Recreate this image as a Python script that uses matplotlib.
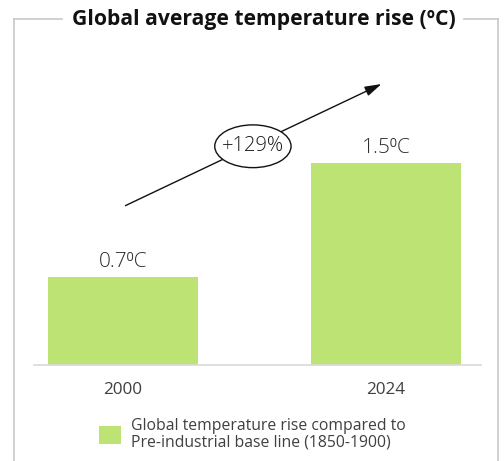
import matplotlib.pyplot as plt
from matplotlib.patches import Ellipse

plt.rcParams['font.family'] = ['Open Sans', 'DejaVu Sans']

years = ["2000", "2024"]
temp_rise = [0.7, 1.5]
value_labels = ["0.7\u2070C", "1.5\u2070C"]
growth_label = "+129%"
legend_label = "Global temperature rise compared to\nPre-industrial base line (1850-1900)"

W, H = 504, 461
fig = plt.figure(figsize=(W / 100, H / 100), dpi=100)

# outer frame with title sitting in the top line
frame_col = "#c8c8c8"
y_top = 1 - 19 / H
fig.add_artist(plt.Line2D([14 / W, 62 / W], [y_top, y_top], color=frame_col, lw=1.2))
fig.add_artist(plt.Line2D([464 / W, 498 / W], [y_top, y_top], color=frame_col, lw=1.2))
fig.add_artist(plt.Line2D([14 / W, 14 / W], [0, y_top], color=frame_col, lw=1.2))
fig.add_artist(plt.Line2D([498 / W, 498 / W], [0, y_top], color=frame_col, lw=1.2))
fig.text(264 / W, y_top, "Global average temperature rise (\u00baC)", ha="center", va="center",
         fontsize=15.2, fontweight="bold", color="#111111")

ax = fig.add_axes([34 / W, (H - 365) / H, (481 - 34) / W, (365 - 40) / H])
x = range(len(years))
bars = ax.bar(x, temp_rise, width=0.57, color="#bde374", bottom=0, label=legend_label)
ax.set_xlim(-0.338, 1.361)
ax.set_ylim(0.08, 0.08 + 325 / 142.5)

for xi, v, lab in zip(x, temp_rise, value_labels):
    ax.text(xi, v + 0.035, lab, ha="center", va="bottom", fontsize=15,
            fontweight="light", color="#2e2e2e")

ax.set_xticks(list(x))
ax.set_xticklabels(years, fontsize=12.3, color="#404040")
ax.tick_params(axis="x", length=0, pad=12)
ax.set_yticks([])
for s in ["top", "right", "left"]:
    ax.spines[s].set_visible(False)
ax.spines["bottom"].set_color("#d9d9d9")
ax.spines["bottom"].set_linewidth(1.2)

# growth arrow with ellipse label
ax.annotate("", xy=(0.992, 2.06), xytext=(0.0, 1.19),
            arrowprops=dict(arrowstyle="-|>,head_length=1.0,head_width=0.3", color="#111111", lw=1))
ax.add_patch(Ellipse((0.494, 1.615), 0.29, 0.30, facecolor="white", edgecolor="#111111", lw=1, zorder=3))
ax.text(0.494, 1.615, growth_label, ha="center", va="center", fontsize=14.5,
        fontweight="light", color="#1a1a1a", zorder=4)

leg = ax.legend(handles=[bars], loc="center left", bbox_to_anchor=(85 / W, 1 - 434 / H),
                bbox_transform=fig.transFigure, frameon=False, fontsize=11.3,
                handlelength=1.4, handleheight=1.4, handletextpad=0.6, labelspacing=0)
for t in leg.get_texts():
    t.set_color("#404040")
    t.set_linespacing(1.0)

fig.savefig("out.png", dpi=100)
